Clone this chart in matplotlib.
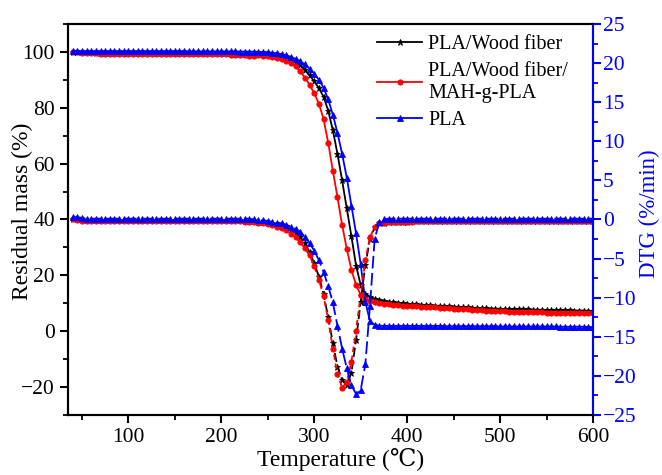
import numpy as np
import matplotlib
matplotlib.use('Agg')
import matplotlib.pyplot as plt
from matplotlib.ticker import MultipleLocator

plt.rcParams['font.family'] = ['Liberation Serif', 'DejaVu Serif']
plt.rcParams['mathtext.fontset'] = 'stix'

# 温度采样点 (每 5 ℃ 一个点)
temperature = np.arange(40, 601, 5)

# TGA 残余质量 (%), 左轴
tga_wf = [
    99.9, 99.9, 99.8, 99.8, 99.8, 99.7, 99.7, 99.7, 99.7, 99.7,
    99.7, 99.6, 99.6, 99.6, 99.6, 99.6, 99.6, 99.6, 99.6, 99.6,
    99.6, 99.6, 99.6, 99.6, 99.6, 99.5, 99.5, 99.5, 99.5, 99.5,
    99.5, 99.5, 99.5, 99.5, 99.5, 99.4, 99.4, 99.4, 99.4, 99.3,
    99.3, 99.2, 99.1, 98.9, 98.7, 98.4, 98.0, 97.4, 96.5, 95.2,
    93.5, 91.6, 89.5, 87.0, 84.0, 79.0, 72.0, 63.5, 54.0, 44.0,
    34.0, 23.5, 16.5, 13.5, 12.3, 11.6, 11.2, 10.9, 10.6, 10.4,
    10.2, 10.0, 9.9, 9.7, 9.6, 9.5, 9.4, 9.3, 9.2, 9.1,
    9.0, 8.9, 8.8, 8.7, 8.6, 8.5, 8.4, 8.3, 8.3, 8.2,
    8.1, 8.1, 8.0, 8.0, 7.9, 7.9, 7.8, 7.8, 7.8, 7.7,
    7.7, 7.7, 7.6, 7.6, 7.6, 7.5, 7.5, 7.5, 7.4, 7.4,
    7.4, 7.3, 7.3]
tga_mah = [
    99.8, 99.8, 99.7, 99.6, 99.5, 99.5, 99.4, 99.4, 99.4, 99.3,
    99.3, 99.3, 99.3, 99.3, 99.3, 99.3, 99.3, 99.3, 99.3, 99.3,
    99.3, 99.3, 99.3, 99.3, 99.3, 99.2, 99.2, 99.2, 99.2, 99.2,
    99.2, 99.1, 99.1, 99.1, 99.0, 99.0, 98.9, 98.8, 98.7, 98.6,
    98.9, 98.7, 98.5, 98.1, 97.7, 97.3, 96.8, 96.0, 94.8, 93.0,
    90.8, 88.2, 85.2, 81.5, 76.0, 67.5, 57.5, 48.0, 38.0, 29.5,
    22.0, 16.5, 13.0, 11.5, 10.8, 10.4, 10.1, 9.9, 9.7, 9.5,
    9.4, 9.2, 9.1, 9.0, 8.9, 8.8, 8.7, 8.6, 8.5, 8.4,
    8.3, 8.2, 8.1, 8.0, 7.9, 7.8, 7.7, 7.6, 7.5, 7.4,
    7.3, 7.2, 7.1, 7.1, 7.0, 7.0, 6.9, 6.9, 6.9, 6.8,
    6.8, 6.8, 6.7, 6.7, 6.7, 6.6, 6.6, 6.6, 6.5, 6.5,
    6.5, 6.4, 6.4]
tga_pla = [
    100.3, 100.3, 100.3, 100.3, 100.3, 100.3, 100.3, 100.3, 100.3, 100.3,
    100.3, 100.3, 100.3, 100.3, 100.3, 100.3, 100.3, 100.3, 100.3, 100.3,
    100.3, 100.3, 100.3, 100.3, 100.3, 100.2, 100.2, 100.2, 100.2, 100.2,
    100.2, 100.2, 100.2, 100.2, 100.2, 100.2, 100.1, 100.1, 100.1, 100.1,
    100.0, 100.0, 99.9, 99.7, 99.5, 99.2, 98.8, 98.2, 97.5, 96.6,
    95.5, 94.0, 92.2, 90.0, 87.2, 83.0, 77.5, 71.0, 63.5, 55.0,
    45.0, 35.0, 24.0, 10.5, 3.6, 2.3, 2.0, 1.9, 1.9, 1.9,
    1.9, 1.9, 1.9, 1.9, 1.9, 1.9, 1.9, 1.9, 1.9, 1.9,
    1.8, 1.8, 1.8, 1.8, 1.8, 1.8, 1.8, 1.8, 1.8, 1.8,
    1.8, 1.8, 1.7, 1.7, 1.7, 1.7, 1.7, 1.7, 1.7, 1.7,
    1.7, 1.7, 1.7, 1.7, 1.7, 1.6, 1.6, 1.6, 1.6, 1.6,
    1.6, 1.5, 1.5]

# DTG (%/min), 右轴
dtg_wf = [
    0.1, 0.1, 0.0, -0.1, -0.1, -0.1, -0.1, -0.1, -0.1, -0.1,
    -0.1, -0.1, -0.1, -0.1, -0.1, -0.1, -0.1, -0.1, -0.1, -0.1,
    -0.1, -0.1, -0.1, -0.1, -0.1, -0.1, -0.1, -0.1, -0.1, -0.1,
    -0.1, -0.1, -0.1, -0.1, -0.1, -0.1, -0.1, -0.2, -0.2, -0.2,
    -0.3, -0.3, -0.4, -0.5, -0.6, -0.8, -1.0, -1.3, -1.7, -2.3,
    -3.0, -4.2, -5.6, -7.3, -9.5, -12.5, -15.8, -18.8, -20.5, -21.1,
    -19.6, -15.4, -10.5, -5.8, -2.5, -1.0, -0.5, -0.4, -0.3, -0.3,
    -0.3, -0.3, -0.3, -0.2, -0.2, -0.2, -0.2, -0.2, -0.2, -0.2,
    -0.2, -0.2, -0.2, -0.2, -0.2, -0.2, -0.2, -0.2, -0.2, -0.2,
    -0.2, -0.2, -0.2, -0.2, -0.2, -0.2, -0.2, -0.2, -0.2, -0.2,
    -0.2, -0.2, -0.2, -0.2, -0.2, -0.2, -0.2, -0.2, -0.2, -0.2,
    -0.2, -0.2, -0.2]
dtg_mah = [
    0.0, -0.1, -0.2, -0.2, -0.2, -0.2, -0.2, -0.2, -0.2, -0.2,
    -0.2, -0.2, -0.2, -0.2, -0.2, -0.2, -0.2, -0.2, -0.2, -0.2,
    -0.2, -0.2, -0.2, -0.2, -0.2, -0.2, -0.2, -0.2, -0.2, -0.2,
    -0.2, -0.2, -0.2, -0.2, -0.2, -0.2, -0.2, -0.3, -0.3, -0.3,
    -0.4, -0.5, -0.6, -0.7, -0.9, -1.1, -1.4, -1.8, -2.3, -2.9,
    -3.7, -4.6, -6.0, -7.7, -9.8, -12.8, -16.5, -19.8, -21.5, -20.8,
    -18.2, -14.2, -9.6, -5.2, -2.3, -0.9, -0.5, -0.4, -0.3, -0.3,
    -0.3, -0.3, -0.3, -0.3, -0.2, -0.2, -0.2, -0.2, -0.2, -0.2,
    -0.2, -0.2, -0.2, -0.2, -0.2, -0.2, -0.2, -0.2, -0.2, -0.2,
    -0.2, -0.2, -0.2, -0.2, -0.2, -0.2, -0.2, -0.2, -0.2, -0.2,
    -0.2, -0.2, -0.2, -0.2, -0.2, -0.2, -0.2, -0.2, -0.2, -0.2,
    -0.2, -0.2, -0.2]
dtg_pla = [
    0.3, 0.3, 0.2, 0.1, 0.1, 0.1, 0.1, 0.1, 0.1, 0.1,
    0.1, 0.1, 0.1, 0.1, 0.1, 0.1, 0.1, 0.1, 0.1, 0.1,
    0.1, 0.1, 0.1, 0.1, 0.1, 0.1, 0.1, 0.1, 0.1, 0.1,
    0.1, 0.1, 0.1, 0.1, 0.1, 0.1, 0.1, 0.1, 0.1, 0.0,
    -0.1, -0.1, -0.2, -0.3, -0.4, -0.5, -0.7, -0.9, -1.2, -1.6,
    -2.2, -3.0, -4.0, -5.2, -6.7, -8.5, -10.6, -13.6, -16.5, -19.0,
    -21.2, -22.3, -21.8, -18.5, -11.0, -2.5, -0.3, 0.0, 0.1, 0.1,
    0.1, 0.1, 0.1, 0.1, 0.1, 0.1, 0.1, 0.1, 0.1, 0.1,
    0.1, 0.1, 0.1, 0.1, 0.1, 0.1, 0.1, 0.1, 0.1, 0.1,
    0.1, 0.1, 0.1, 0.1, 0.1, 0.1, 0.1, 0.1, 0.1, 0.1,
    0.1, 0.1, 0.1, 0.1, 0.1, 0.1, 0.1, 0.1, 0.1, 0.1,
    0.1, 0.1, 0.1]

labels = ['PLA/Wood fiber', 'PLA/Wood fiber/\nMAH-g-PLA', 'PLA']
colors = ['black', 'red', 'blue']
markers = ['*', 'o', '^']
msizes = [4.8, 3.8, 4.0]
dtg_styles = [(0, (5, 2)), (0, (3, 2)), (0, (7, 2.5))]

fig = plt.figure(figsize=(6.62, 4.75), dpi=100)
ax = fig.add_axes([0.1027, 0.1263, 0.7931, 0.8232])
ax2 = ax.twinx()

tga = [tga_wf, tga_mah, tga_pla]
dtg = [dtg_wf, dtg_mah, dtg_pla]
handles = []
for i in range(3):
    h, = ax.plot(temperature, tga[i], color=colors[i], lw=1.3, marker=markers[i],
                 ms=msizes[i], mew=0.6, label=labels[i])
    handles.append(h)
    ax2.plot(temperature, dtg[i], color=colors[i], lw=1.3, ls=dtg_styles[i],
             marker=markers[i], ms=msizes[i], mew=0.6)

ax.set_xlim(35, 600)
ax.set_ylim(-30, 110)
ax2.set_ylim(-25, 25)
ax.xaxis.set_major_locator(MultipleLocator(100))
ax.xaxis.set_minor_locator(MultipleLocator(50))
ax.yaxis.set_major_locator(MultipleLocator(20))
ax.yaxis.set_minor_locator(MultipleLocator(10))
ax2.yaxis.set_major_locator(MultipleLocator(5))
ax2.yaxis.set_minor_locator(MultipleLocator(2.5))

for a in (ax, ax2):
    for s in a.spines.values():
        s.set_linewidth(1.5)
ax2.spines['right'].set_color('blue')
ax.tick_params(which='major', direction='out', length=6, width=1.5, labelsize=15.5,
               pad=3.5, top=False)
ax.tick_params(which='minor', direction='out', length=3.5, width=1.3, top=False)
ax2.tick_params(which='major', direction='out', length=5.5, width=1.5, labelsize=15.5,
                pad=1.5, colors='blue')
ax2.tick_params(which='minor', direction='out', length=3.5, width=1.3, colors='blue')

ax.set_xlabel('Temperature (℃)', fontsize=17)
ax.xaxis.set_label_coords(0.52, -0.085)
ax.set_ylabel('Residual mass (%)', fontsize=17)
ax.yaxis.set_label_coords(-0.066, 0.52)
ax2.set_ylabel('DTG (%/min)', fontsize=16.5, color='blue')
ax2.yaxis.set_label_coords(1.087, 0.515)

ax.legend(handles=handles, loc='upper left', bbox_to_anchor=(0.5886, 0.972), frameon=False,
          fontsize=14.5, numpoints=1, handlelength=2.25, handletextpad=0.3,
          labelspacing=0.4, borderpad=0, borderaxespad=0)

plt.savefig('out.png', dpi=100)
plt.close()
